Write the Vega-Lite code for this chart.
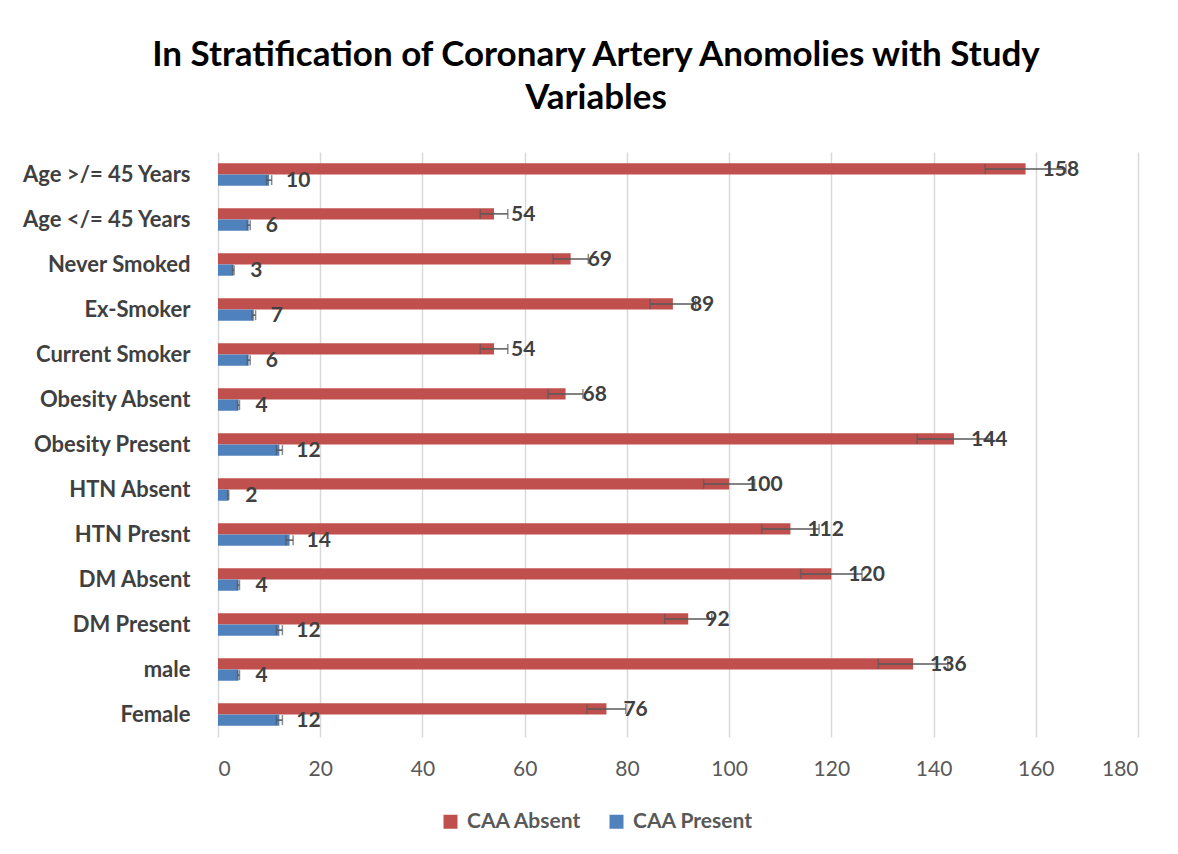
{
  "$schema": "https://vega.github.io/schema/vega-lite/v6.json",
  "autosize": "none",
  "width": 920,
  "height": 585,
  "padding": {"left": 218, "top": 152, "right": 40, "bottom": 117},
  "background": "white",
  "config": {"view": {"stroke": null}, "font": "Lato"},
  "title": {
    "text": ["In Stratification of Coronary Artery Anomolies with Study", "Variables"],
    "fontSize": 35,
    "fontWeight": "bold",
    "color": "#000000",
    "lineHeight": 43,
    "anchor": "middle",
    "frame": "group",
    "dx": -82,
    "offset": 36
  },
  "data": {
    "values": [
      {"category": "Age >/= 45 Years", "series": "CAA Absent", "value": 158, "lo": 150.1, "hi": 165.9},
      {"category": "Age >/= 45 Years", "series": "CAA Present", "value": 10, "lo": 9.5, "hi": 10.5},
      {"category": "Age </= 45 Years", "series": "CAA Absent", "value": 54, "lo": 51.3, "hi": 56.7},
      {"category": "Age </= 45 Years", "series": "CAA Present", "value": 6, "lo": 5.7, "hi": 6.3},
      {"category": "Never Smoked", "series": "CAA Absent", "value": 69, "lo": 65.55, "hi": 72.45},
      {"category": "Never Smoked", "series": "CAA Present", "value": 3, "lo": 2.85, "hi": 3.15},
      {"category": "Ex-Smoker", "series": "CAA Absent", "value": 89, "lo": 84.55, "hi": 93.45},
      {"category": "Ex-Smoker", "series": "CAA Present", "value": 7, "lo": 6.65, "hi": 7.35},
      {"category": "Current Smoker", "series": "CAA Absent", "value": 54, "lo": 51.3, "hi": 56.7},
      {"category": "Current Smoker", "series": "CAA Present", "value": 6, "lo": 5.7, "hi": 6.3},
      {"category": "Obesity Absent ", "series": "CAA Absent", "value": 68, "lo": 64.6, "hi": 71.4},
      {"category": "Obesity Absent ", "series": "CAA Present", "value": 4, "lo": 3.8, "hi": 4.2},
      {"category": "Obesity Present", "series": "CAA Absent", "value": 144, "lo": 136.8, "hi": 151.2},
      {"category": "Obesity Present", "series": "CAA Present", "value": 12, "lo": 11.4, "hi": 12.6},
      {"category": "HTN Absent", "series": "CAA Absent", "value": 100, "lo": 95, "hi": 105},
      {"category": "HTN Absent", "series": "CAA Present", "value": 2, "lo": 1.9, "hi": 2.1},
      {"category": "HTN Presnt", "series": "CAA Absent", "value": 112, "lo": 106.4, "hi": 117.6},
      {"category": "HTN Presnt", "series": "CAA Present", "value": 14, "lo": 13.3, "hi": 14.7},
      {"category": "DM Absent", "series": "CAA Absent", "value": 120, "lo": 114, "hi": 126},
      {"category": "DM Absent", "series": "CAA Present", "value": 4, "lo": 3.8, "hi": 4.2},
      {"category": "DM Present", "series": "CAA Absent", "value": 92, "lo": 87.4, "hi": 96.6},
      {"category": "DM Present", "series": "CAA Present", "value": 12, "lo": 11.4, "hi": 12.6},
      {"category": "male", "series": "CAA Absent", "value": 136, "lo": 129.2, "hi": 142.8},
      {"category": "male", "series": "CAA Present", "value": 4, "lo": 3.8, "hi": 4.2},
      {"category": "Female", "series": "CAA Absent", "value": 76, "lo": 72.2, "hi": 79.8},
      {"category": "Female", "series": "CAA Present", "value": 12, "lo": 11.4, "hi": 12.6}
    ]
  },
  "encoding": {
    "y": {
      "field": "category",
      "type": "nominal",
      "sort": null,
      "scale": {"paddingInner": 0.5, "paddingOuter": 0.25},
      "axis": {
        "title": null,
        "ticks": false,
        "domain": false,
        "labelFontSize": 22,
        "labelFontWeight": "bold",
        "labelColor": "#404040",
        "labelPadding": 28,
        "labelLimit": 300,
        "minExtent": 210,
        "maxExtent": 210
      }
    },
    "yOffset": {"field": "series", "type": "nominal", "sort": ["CAA Absent", "CAA Present"]}
  },
  "layer": [
    {
      "mark": {"type": "bar"},
      "encoding": {
        "x": {
          "field": "value",
          "type": "quantitative",
          "scale": {"domain": [0, 180], "nice": false},
          "axis": {
            "title": null,
            "values": [0, 20, 40, 60, 80, 100, 120, 140, 160, 180],
            "grid": true,
            "gridColor": "#d9d9d9",
            "gridWidth": 1.5,
            "domain": false,
            "ticks": false,
            "labelFontSize": 21,
            "labelColor": "#595959",
            "labelPadding": 21
          }
        },
        "color": {
          "field": "series",
          "type": "nominal",
          "scale": {"domain": ["CAA Absent", "CAA Present"], "range": ["#C0504D", "#4F81BD"]},
          "legend": {
            "title": null,
            "orient": "none",
            "direction": "horizontal",
            "legendX": 222,
            "legendY": 659,
            "symbolType": "square",
            "symbolSize": 196,
            "symbolStrokeWidth": 0,
            "labelFontSize": 21,
            "labelFontWeight": "bold",
            "labelColor": "#595959",
            "labelOffset": 6,
            "columnPadding": 24
          }
        }
      }
    },
    {
      "mark": {"type": "rule", "color": "#595959", "strokeWidth": 1.5},
      "encoding": {
        "x": {"field": "lo", "type": "quantitative"},
        "x2": {"field": "hi"}
      }
    },
    {
      "mark": {"type": "tick", "color": "#595959", "thickness": 1.5, "size": 10, "orient": "vertical"},
      "encoding": {"x": {"field": "lo", "type": "quantitative"}}
    },
    {
      "mark": {"type": "tick", "color": "#595959", "thickness": 1.5, "size": 10, "orient": "vertical"},
      "encoding": {"x": {"field": "hi", "type": "quantitative"}}
    },
    {
      "mark": {"type": "text", "align": "left", "baseline": "middle", "dx": 17, "dy": 1, "fontSize": 21, "fontWeight": "bold", "color": "#404040"},
      "encoding": {
        "x": {"field": "value", "type": "quantitative"},
        "text": {"field": "value", "type": "quantitative"}
      }
    }
  ]
}
